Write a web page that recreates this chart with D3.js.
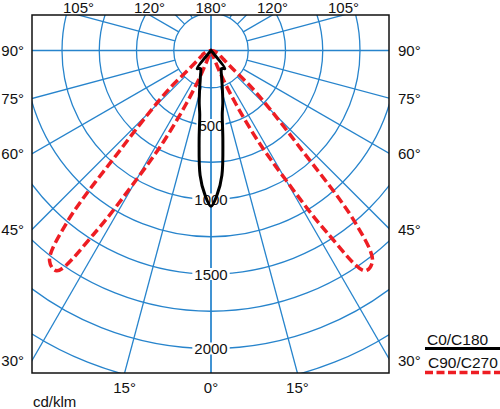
<!DOCTYPE html>
<html><head><meta charset="utf-8">
<script src="https://cdn.jsdelivr.net/npm/d3@7"></script>
<style>
html,body{margin:0;padding:0;background:#fff;}
svg{display:block;font-family:"Liberation Sans",Arial,sans-serif;}
</style></head>
<body>
<svg id="chart" width="500" height="409"></svg>
<script>
// gamma angles (degrees from nadir)
const gammas = [0,2.5,5,7.5,10,12.5,15,17.5,20,22.5,25,27.5,30,32.5,35,37.5,40,42.5,45,47.5,50,52.5,55,57.5,60,65,70,75,80,85,90];
// C0/C180 (cd/klm)
const c0c180 = [1045,965,840,610,435,365,300,250,212,185,162,148,140,143,148,153,0,0,0,0,0,0,0,0,0,0,0,0,0,0,0];
// C90/C270 (cd/klm)
const c90c270 = [0,0,0,0,0,0,0,0,20,180,400,690,1000,1450,1805,1780,1500,880,575,380,190,130,100,85,70,60,40,25,10,0,0];
const ringValues = [250,500,750,1000,1250,1500,1750,2000,2250];
const ringLabels = [500,1000,1500,2000];
const spokeAngles = [0,15,30,45,60,75,90,105,120,135,150,165,180];
const sideTicks = [90,75,60,45,30];
const topTicks = [105,120];
const bottomTicks = [15];
const seriesNames = ["C0/C180","C90/C270"];

const svg = d3.select("#chart");
const frame = {left:32, top:15, right:389, bottom:373};
const cx = 211, cy = 50.5;
const r = d3.scaleLinear().domain([0,2000]).range([0,298]);
const blue = "#2784cc", red = "#ee1d23";
const rad = d => d*Math.PI/180;

svg.append("defs").append("clipPath").attr("id","clip")
  .append("rect").attr("x",frame.left).attr("y",frame.top)
  .attr("width",frame.right-frame.left).attr("height",frame.bottom-frame.top);

const grid = svg.append("g").attr("clip-path","url(#clip)")
  .attr("fill","none").attr("stroke",blue).attr("stroke-width",1.3);

ringValues.forEach(v=>{
  grid.append("circle").attr("cx",cx).attr("cy",cy).attr("r",r(v));
});
function pt(g, v, side){ return [cx + side*r(v)*Math.sin(rad(g)), cy + r(v)*Math.cos(rad(g))]; }
spokeAngles.forEach(g=>{
  [1,-1].forEach(s=>{
    const start = (g===0||g===90||g===180)?0:250;
    const a = pt(g,start,s), b = pt(g,4000,s);
    grid.append("line").attr("x1",a[0]).attr("y1",a[1]).attr("x2",b[0]).attr("y2",b[1]);
  });
});

// ring labels with white background
const fs = 15;
ringLabels.forEach(v=>{
  const y = cy + r(v);
  const t = svg.append("text").attr("x",cx).attr("y",y).attr("text-anchor","middle")
    .attr("dominant-baseline","central").attr("font-size",fs).attr("fill","#111").text(v);
  const bb = t.node().getBBox();
  svg.insert("rect","text:last-of-type").attr("x",bb.x-2).attr("y",y-6).attr("width",bb.width+4).attr("height",12).attr("fill","#fff");
});

// frame
svg.append("rect").attr("x",frame.left).attr("y",frame.top)
  .attr("width",frame.right-frame.left).attr("height",frame.bottom-frame.top)
  .attr("fill","none").attr("stroke","#111").attr("stroke-width",1.5);

// curves
const g = svg.append("g").attr("transform",`translate(${cx},${cy})`);
function closedPts(vals){
  const pts = [];
  gammas.forEach((gm,i)=>pts.push([Math.PI - rad(gm), vals[i]]));
  for(let i=gammas.length-2;i>=1;i--) pts.push([Math.PI + rad(gammas[i]), vals[i]]);
  return pts;
}
const line = d3.lineRadial().angle(d=>d[0]).radius(d=>r(d[1])).curve(d3.curveCatmullRomClosed.alpha(0.5));
g.append("path").attr("d",line(closedPts(c90c270))).attr("fill","none")
  .attr("stroke",red).attr("stroke-width",3.5).attr("stroke-dasharray","9,4").attr("stroke-linejoin","round");
g.append("path").attr("d",line(closedPts(c0c180))).attr("fill","none")
  .attr("stroke","#000").attr("stroke-width",3).attr("stroke-linejoin","miter");

// angle labels
const lab = svg.append("g").attr("font-size",fs).attr("fill","#111");
sideTicks.forEach(a=>{
  const t = (cx-frame.left)/Math.sin(rad(a));
  const y = cy + t*Math.cos(rad(a));
  lab.append("text").attr("x",24).attr("y",y).attr("text-anchor","end").attr("dominant-baseline","central").text(a+"°");
  lab.append("text").attr("x",398).attr("y",y).attr("text-anchor","start").attr("dominant-baseline","central").text(a+"°");
});
topTicks.forEach(a=>{
  const t = (cy-frame.top)/(-Math.cos(rad(a)));
  const dx = t*Math.sin(rad(a));
  [1,-1].forEach(s=>lab.append("text").attr("x",cx+s*dx).attr("y",12.5).attr("text-anchor","middle").text(a+"°"));
});
lab.append("text").attr("x",cx).attr("y",12.5).attr("text-anchor","middle").text("180°");
bottomTicks.forEach(a=>{
  const t = (frame.bottom-cy)/Math.cos(rad(a));
  const dx = t*Math.sin(rad(a));
  [1,-1].forEach(s=>lab.append("text").attr("x",cx+s*dx).attr("y",393).attr("text-anchor","middle").text(a+"°"));
});
lab.append("text").attr("x",cx).attr("y",393).attr("text-anchor","middle").text("0°");
lab.append("text").attr("x",33).attr("y",407).text("cd/klm");

// legend
const leg = svg.append("g");
leg.append("text").attr("x",427).attr("y",345).attr("font-size",15.5).attr("fill","#111").text(seriesNames[0]);
leg.append("line").attr("x1",425).attr("x2",500).attr("y1",348.5).attr("y2",348.5).attr("stroke","#000").attr("stroke-width",3);
leg.append("text").attr("x",428).attr("y",368).attr("font-size",15.5).attr("fill","#111").text(seriesNames[1]);
leg.append("line").attr("x1",425).attr("x2",500).attr("y1",372.5).attr("y2",372.5).attr("stroke",red).attr("stroke-width",3.5).attr("stroke-dasharray","8,3.5");
</script>
</body></html>
